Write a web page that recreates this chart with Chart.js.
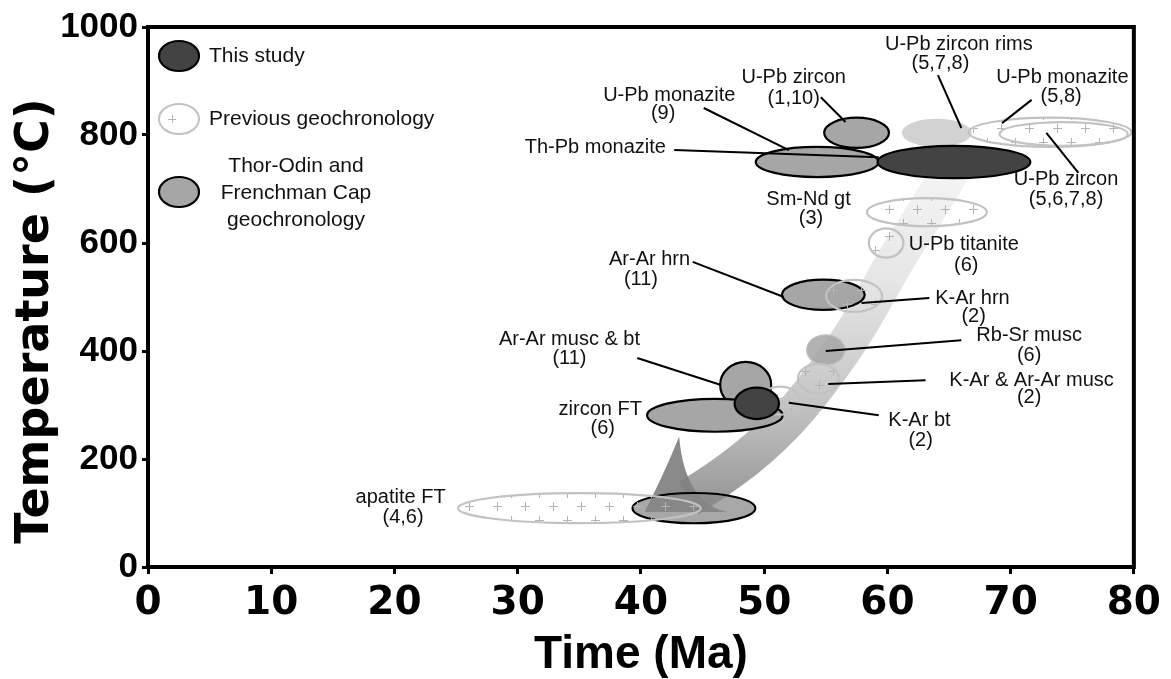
<!DOCTYPE html>
<html><head><meta charset="utf-8">
<script src="https://cdn.jsdelivr.net/npm/chart.js@4.4.1/dist/chart.umd.min.js"></script>
<style>html,body{margin:0;padding:0;background:#fff;}#wrap{width:1171px;height:679px;}</style>
</head><body><div id="wrap"><canvas id="c" width="1171" height="679"></canvas></div>
<script>
// ---------------- data ----------------
const xTicks = [0, 10, 20, 30, 40, 50, 60, 70, 80];
const yTicks = [0, 200, 400, 600, 800, 1000];

// This study (age Ma, temperature °C, half-widths)
const studyAge      = [65.4, 49.4];
const studyTemp     = [750, 303];
const studyAgeHalf  = [6.2, 1.8];
const studyTempHalf = [30, 29];

// Thor-Odin and Frenchman Cap geochronology
const toNames    = ['U-Pb zircon (1,10)', 'U-Pb monazite (9)', 'Ar-Ar hrn (11)', 'Ar-Ar musc & bt (11)', 'zircon FT (6)', 'apatite FT'];
const toAge      = [57.5, 54.3, 54.8, 48.5, 46.0, 44.3];
const toTemp     = [804, 750, 504, 337, 281, 109];
const toAgeHalf  = [2.63, 4.98, 3.36, 2.07, 5.5, 4.98];
const toTempHalf = [28, 28, 28, 43, 30.5, 28];

// Previous geochronology
const prevNames    = ['U-Pb zircon rims', 'U-Pb monazite', 'U-Pb zircon', 'Sm-Nd gt', 'U-Pb titanite', 'K-Ar hrn', 'Rb-Sr musc', 'K-Ar & Ar-Ar musc', 'K-Ar bt', 'apatite FT'];
const prevAge      = [64.0, 73.2, 74.3, 63.2, 59.9, 57.3, 55.0, 54.4, 51.3, 35.0];
const prevTemp     = [804, 805, 802, 657, 600, 502, 402, 349, 308, 109];
const prevAgeHalf  = [2.84, 6.6, 5.2, 4.86, 1.4, 2.27, 1.54, 1.66, 1.6, 9.85];
const prevTempHalf = [26, 27, 22, 26, 27, 29.6, 27.8, 27, 26, 27.8];

// Cooling path (centre line) and arrow head
const pathAge  = [65.4, 63.0, 60.9, 59.3, 57.7, 56.1, 54.5, 52.7, 50.6, 48.4, 46.2, 43.9];
const pathTemp = [744, 652, 578, 513, 448, 393, 343, 291, 241, 198, 161, 128];
const headAge  = [43.1, 47.0, 40.3];
const headTemp = [241, 102, 102];

// Annotation text lines
const labelText = ['U-Pb zircon rims', '(5,7,8)', 'U-Pb monazite', '(5,8)', 'U-Pb zircon', '(1,10)', 'U-Pb monazite', '(9)',
  'Th-Pb monazite', 'U-Pb zircon', '(5,6,7,8)', 'Sm-Nd gt', '(3)', 'U-Pb titanite', '(6)', 'Ar-Ar hrn', '(11)', 'K-Ar hrn', '(2)',
  'Rb-Sr musc', '(6)', 'Ar-Ar musc & bt', '(11)', 'K-Ar & Ar-Ar musc', '(2)', 'zircon FT', '(6)', 'K-Ar bt', '(2)', 'apatite FT', '(4,6)'];
const labelAge  = [65.8, 64.3, 74.2, 74.1, 52.4, 52.4, 42.3, 41.8, 36.3, 74.5, 74.5, 53.6, 53.8, 66.2, 66.4, 40.7, 40.0, 66.9, 67.0,
  71.5, 71.5, 34.2, 34.2, 71.7, 71.5, 36.7, 36.9, 62.6, 62.7, 20.5, 20.7];
const labelTemp = [968, 933, 907, 872, 907, 868, 874, 839, 776, 717, 681, 680, 646, 598, 559, 570, 533, 498, 463,
  428, 391, 422, 387, 346, 313, 291, 257, 272, 235, 128, 91];

// Leader lines
const leadFromAge  = [54.6, 45.1, 42.7, 64.1, 71.7, 72.9, 44.2, 57.9, 55.0, 55.2, 52.0, 39.7];
const leadFromTemp = [870, 850, 772, 911, 865, 804, 565, 489, 400, 339, 304, 387];
const leadToAge    = [56.6, 52.0, 59.3, 66.0, 69.3, 75.5, 51.6, 63.4, 66.0, 63.1, 59.3, 46.5];
const leadToTemp   = [824, 772, 759, 813, 822, 730, 500, 498, 420, 346, 281, 337];

// ---------------- drawing helpers ----------------
const FONT = '"Liberation Sans", Arial, Helvetica, sans-serif';
const WIDE = '"DejaVu Sans", "Liberation Sans", sans-serif';
function pts(a, t) { return a.map((v, i) => ({x: v, y: t[i]})); }

function ell(chart, a, t, ha, ht) {
  const xs = chart.scales.x, ys = chart.scales.y;
  const cx = xs.getPixelForValue(a), cy = ys.getPixelForValue(t);
  return {cx, cy, rx: Math.abs(xs.getPixelForValue(a + ha) - cx), ry: Math.abs(cy - ys.getPixelForValue(t + ht))};
}
function ellPath(ctx, e) { ctx.beginPath(); ctx.ellipse(e.cx, e.cy, e.rx, e.ry, 0, 0, Math.PI * 2); }

let plusPattern = null;
function getPlusPattern(ctx) {
  if (plusPattern) return plusPattern;
  const t = document.createElement('canvas'); t.width = 28; t.height = 27;
  const c = t.getContext('2d');
  c.strokeStyle = '#b4b4b4'; c.lineWidth = 1;
  [[7, 7], [21, 20]].forEach(([x, y]) => {
    c.beginPath(); c.moveTo(x - 4, y + 0.5); c.lineTo(x + 5, y + 0.5);
    c.moveTo(x + 0.5, y - 4); c.lineTo(x + 0.5, y + 5); c.stroke();
  });
  plusPattern = ctx.createPattern(t, 'repeat');
  return plusPattern;
}

const solidPrev = {'U-Pb zircon rims': {fill: '#d2d2d2', stroke: null}, 'Rb-Sr musc': {fill: 'rgba(165,165,165,0.85)', stroke: '#bdbdbd'}};

const geoPlugin = {
  id: 'geo',
  beforeDatasetsDraw(chart) {
    const ctx = chart.ctx, xs = chart.scales.x, ys = chart.scales.y, ca = chart.chartArea;
    ctx.save();
    ctx.beginPath(); ctx.rect(ca.left, ca.top, ca.right - ca.left, ca.bottom - ca.top); ctx.clip();

    // cooling path band
    const p = pathAge.map((a, i) => [xs.getPixelForValue(a), ys.getPixelForValue(pathTemp[i])]);
    const g = ctx.createLinearGradient(0, p[0][1], 0, p[p.length - 1][1]);
    g.addColorStop(0, '#f5f5f5'); g.addColorStop(0.35, '#e6e6e6'); g.addColorStop(0.7, '#c6c6c6'); g.addColorStop(1, '#9a9a9a');
    ctx.strokeStyle = g; ctx.lineWidth = 38; ctx.lineJoin = 'round'; ctx.lineCap = 'butt';
    ctx.beginPath(); ctx.moveTo(p[0][0], p[0][1]);
    for (let i = 1; i < p.length - 1; i++) {
      const mx = (p[i][0] + p[i + 1][0]) / 2, my = (p[i][1] + p[i + 1][1]) / 2;
      ctx.quadraticCurveTo(p[i][0], p[i][1], mx, my);
    }
    ctx.lineTo(p[p.length - 1][0], p[p.length - 1][1]);
    ctx.stroke();

    // arrow head (concave triangle)
    const h = headAge.map((a, i) => [xs.getPixelForValue(a), ys.getPixelForValue(headTemp[i])]);
    ctx.fillStyle = 'rgba(128,128,128,0.92)';
    ctx.beginPath(); ctx.moveTo(h[0][0], h[0][1]);
    ctx.quadraticCurveTo(h[0][0] + 6, h[1][1] - 8, h[1][0], h[1][1]);
    ctx.lineTo(h[2][0], h[2][1]);
    ctx.quadraticCurveTo((h[0][0] + h[2][0]) / 2 + 2, (h[0][1] + h[2][1]) / 2, h[0][0], h[0][1]);
    ctx.fill();

    // Thor-Odin ellipses
    toAge.forEach((a, i) => {
      const e = ell(chart, a, toTemp[i], toAgeHalf[i], toTempHalf[i]);
      ellPath(ctx, e);
      ctx.fillStyle = i === toAge.length - 1 ? 'rgba(135,135,135,0.72)' : '#a6a6a6';
      ctx.fill();
      ctx.lineWidth = 2.2; ctx.strokeStyle = '#000'; ctx.stroke();
    });

    // previous geochronology
    const pat = getPlusPattern(ctx);
    prevAge.forEach((a, i) => {
      const e = ell(chart, a, prevTemp[i], prevAgeHalf[i], prevTempHalf[i]);
      const s = solidPrev[prevNames[i]];
      ellPath(ctx, e);
      if (s) {
        ctx.fillStyle = s.fill; ctx.fill();
        if (s.stroke) { ctx.strokeStyle = s.stroke; ctx.lineWidth = 1.5; ctx.stroke(); }
      } else {
        ctx.fillStyle = pat; ctx.fill();
        ctx.strokeStyle = '#c2c2c2'; ctx.lineWidth = 2.2; ctx.stroke();
      }
    });

    // this study
    studyAge.forEach((a, i) => {
      const e = ell(chart, a, studyTemp[i], studyAgeHalf[i], studyTempHalf[i]);
      ellPath(ctx, e);
      ctx.fillStyle = '#434343'; ctx.fill();
      ctx.lineWidth = 2.2; ctx.strokeStyle = '#000'; ctx.stroke();
    });

    // leader lines
    ctx.strokeStyle = '#000'; ctx.lineWidth = 2; ctx.lineCap = 'butt';
    leadFromAge.forEach((a, i) => {
      ctx.beginPath();
      ctx.moveTo(xs.getPixelForValue(a), ys.getPixelForValue(leadFromTemp[i]));
      ctx.lineTo(xs.getPixelForValue(leadToAge[i]), ys.getPixelForValue(leadToTemp[i]));
      ctx.stroke();
    });
    ctx.restore();

    // annotation text
    ctx.save();
    ctx.fillStyle = '#111'; ctx.font = '20px ' + FONT; ctx.textAlign = 'center'; ctx.textBaseline = 'middle';
    labelText.forEach((t, i) => ctx.fillText(t, xs.getPixelForValue(labelAge[i]), ys.getPixelForValue(labelTemp[i])));
    ctx.restore();

    // legend
    ctx.save();
    const lx = ca.left + 31;
    const pos = {'This study': ca.top + 29, 'Previous geochronology': ca.top + 92, 'Thor-Odin and Frenchman Cap geochronology': ca.top + 165};
    chart.data.datasets.forEach(ds => {
      const y = pos[ds.label];
      const e = {cx: lx, cy: y, rx: 20, ry: 15};
      ellPath(ctx, e);
      if (ds.label === 'Previous geochronology') {
        ctx.fillStyle = '#fff'; ctx.fill();
        ctx.strokeStyle = '#c2c2c2'; ctx.lineWidth = 2; ctx.stroke();
        ctx.strokeStyle = '#b4b4b4'; ctx.lineWidth = 1;
        ctx.beginPath(); ctx.moveTo(lx - 11, y + 0.5); ctx.lineTo(lx - 3, y + 0.5); ctx.moveTo(lx - 6.5, y - 4); ctx.lineTo(lx - 6.5, y + 4); ctx.stroke();
      } else {
        ctx.fillStyle = ds.label === 'This study' ? '#434343' : '#a6a6a6'; ctx.fill();
        ctx.strokeStyle = '#000'; ctx.lineWidth = 2.2; ctx.stroke();
      }
      ctx.fillStyle = '#111'; ctx.font = '21px ' + FONT; ctx.textBaseline = 'middle';
      if (ds.label.startsWith('Thor')) {
        ctx.textAlign = 'center';
        ['Thor-Odin and', 'Frenchman Cap', 'geochronology'].forEach((t, k) => ctx.fillText(t, ca.left + 148, y - 26 + k * 27));
      } else {
        ctx.textAlign = 'left';
        ctx.fillText(ds.label, ca.left + 61, y);
      }
    });
    ctx.restore();
  },
  afterDraw(chart) {
    const ctx = chart.ctx, ca = chart.chartArea;
    ctx.save();
    ctx.strokeStyle = '#000'; ctx.lineWidth = 4;
    ctx.strokeRect(ca.left, ca.top, ca.right - ca.left, ca.bottom - ca.top);
    ctx.restore();
  }
};

new Chart(document.getElementById('c'), {
  type: 'scatter',
  data: {
    datasets: [
      {label: 'Previous geochronology', data: pts(prevAge, prevTemp), pointRadius: 0},
      {label: 'Thor-Odin and Frenchman Cap geochronology', data: pts(toAge, toTemp), pointRadius: 0},
      {label: 'This study', data: pts(studyAge, studyTemp), pointRadius: 0}
    ]
  },
  options: {
    responsive: false, animation: false, events: [],
    layout: {padding: {left: 0, top: 27, right: 36, bottom: 0}},
    plugins: {legend: {display: false}, tooltip: {enabled: false}},
    scales: {
      x: {
        type: 'linear', min: 0, max: 80,
        afterBuildTicks: s => { s.ticks = xTicks.map(v => ({value: v})); },
        afterFit: s => { s.height = 112; },
        border: {display: false},
        grid: {drawOnChartArea: false, drawTicks: true, tickLength: 7, tickWidth: 3, tickColor: '#000'},
        ticks: {color: '#000', padding: 10, maxRotation: 0, callback: v => String(v), font: {family: WIDE, size: 39, weight: 'bold', lineHeight: 1}},
        title: {display: true, text: 'Time (Ma)', color: '#000', padding: {top: 0, bottom: 1}, font: {family: FONT, size: 46, weight: 'bold', lineHeight: 1}}
      },
      y: {
        type: 'linear', min: 0, max: 1000,
        afterBuildTicks: s => { s.ticks = yTicks.map(v => ({value: v})); },
        afterFit: s => { s.width = 148; },
        border: {display: false},
        grid: {drawOnChartArea: false, drawTicks: true, tickLength: 6, tickWidth: 3, tickColor: '#000'},
        ticks: {color: '#000', padding: 4, callback: v => String(v), font: {family: FONT, size: 35, weight: 'bold', lineHeight: 1}},
        title: {display: true, text: 'Temperature (°C)   ', color: '#000', padding: {top: 13, bottom: 0}, font: {family: WIDE, size: 46, weight: 'bold', lineHeight: 1}}
      }
    }
  },
  plugins: [geoPlugin]
});
</script></body></html>
